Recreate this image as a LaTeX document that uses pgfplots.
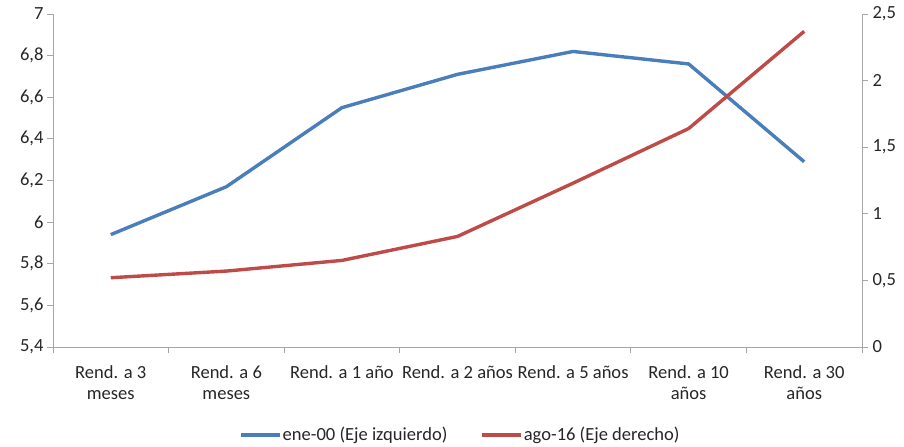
\documentclass[border=0pt]{standalone}
\usepackage{fontspec}
\setmainfont{Carlito}
\usepackage{pgfplots}
\pgfplotsset{compat=1.18}
\definecolor{ser1}{HTML}{4A7EBB}
\definecolor{ser2}{HTML}{BE4B48}
\definecolor{axgray}{HTML}{A6A6A6}
\definecolor{txt}{HTML}{262626}
\pgfplotsset{
  common/.style={
    scale only axis, width=809bp, height=333bp,
    at={(0,0)}, anchor=south west,
    xmin=-0.5, xmax=6.5,
    font=\fontsize{18.6}{22}\selectfont,
    /pgf/number format/assume math mode=true,
    /pgf/number format/use comma,
    tick align=outside,
    major tick length=6bp,
    axis line style={axgray, line width=0.9bp},
    every tick/.style={axgray, line width=0.9bp},
    tick label style={text=txt},
  }
}
\begin{document}
\begin{tikzpicture}
\useasboundingbox (-53bp,-100bp) rectangle (851bp,347bp);
\begin{axis}[common,
  axis x line*=bottom, axis y line*=left,
  ymin=5.4, ymax=7,
  ytick={5.4,5.6,5.8,6,6.2,6.4,6.6,6.8,7},
  yticklabel style={xshift=0bp},
  xtick={-0.5,0.5,1.5,2.5,3.5,4.5,5.5,6.5},
  xticklabels={},
  extra x ticks={0,1,2,3,4,5,6},
  extra x tick labels={Rend. a 3\\meses, Rend. a 6\\meses, Rend. a 1 año, Rend. a 2 años, Rend. a 5 años, Rend. a 10\\años, Rend. a 30\\años},
  extra x tick style={major tick length=0pt, xticklabel style={align=center, yshift=-18bp, inner sep=0pt, anchor=north}},
  legend style={draw=none, fill=none, legend columns=2, at={(0.503,-0.264)}, anchor=center,
    font=\fontsize{18.6}{22}\selectfont, text=txt,
    /tikz/every even column/.append style={column sep=32bp},
    nodes={inner sep=1bp}},
  legend image code/.code={\draw[#1] (0bp,0bp) -- (39bp,0bp);},
]
\addplot[ser1, line width=3.4bp, line join=round] coordinates {
(0,5.94) (1,6.17) (2,6.55) (3,6.71) (4,6.82) (5,6.76) (6,6.29)};
\addlegendentry{ene-00 (Eje izquierdo)}
\addlegendimage{ser2, line width=3.4bp}
\addlegendentry{ago-16 (Eje derecho)}
\end{axis}
\begin{axis}[common,
  axis x line=none, axis y line*=right,
  ymin=0, ymax=2.5,
  ytick={0,0.5,1,1.5,2,2.5},
  yticklabel style={xshift=1bp},
]
\addplot[ser2, line width=3.4bp, line join=round] coordinates {
(0,0.52) (1,0.57) (2,0.65) (3,0.83) (4,1.23) (5,1.64) (6,2.37)};
\end{axis}
\end{tikzpicture}
\end{document}
